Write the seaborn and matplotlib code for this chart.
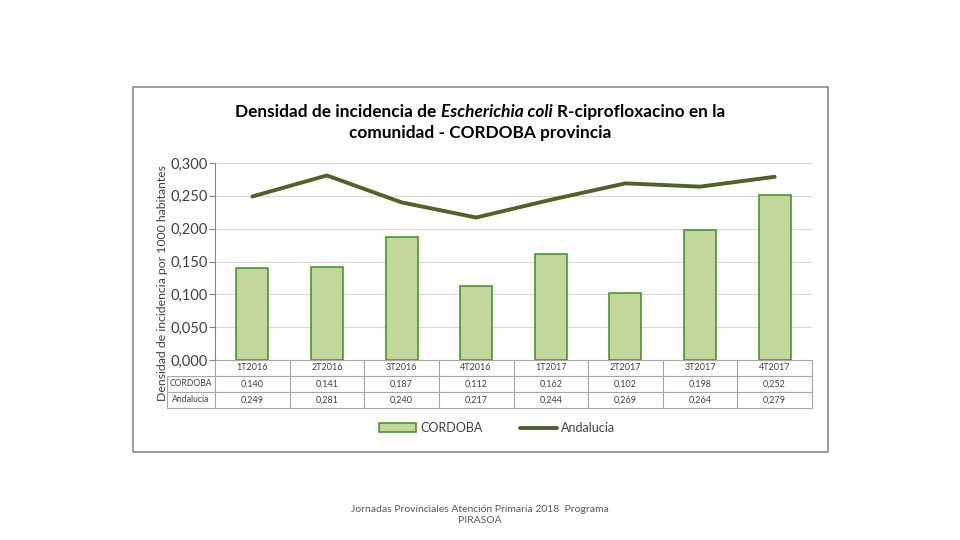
import numpy as np
import pandas as pd
import seaborn as sns
import matplotlib
matplotlib.use('Agg')
import matplotlib.pyplot as plt
from matplotlib.patches import Rectangle
from matplotlib.ticker import FuncFormatter, MultipleLocator

periods = ['1T2016', '2T2016', '3T2016', '4T2016', '1T2017', '2T2017', '3T2017', '4T2017']
cordoba = [0.140, 0.141, 0.187, 0.112, 0.162, 0.102, 0.198, 0.252]
andalucia = [0.249, 0.281, 0.240, 0.217, 0.244, 0.269, 0.264, 0.279]
series_names = ['CORDOBA', 'Andalucía']

sns.set_theme(style='white')
plt.rcParams['font.family'] = ['Lato', 'DejaVu Sans']

W, H = 960, 540
fig = plt.figure(figsize=(9.6, 5.4), dpi=100)
fig.patch.set_facecolor('white')

axL, axR, axT, axB = 215, 812, 163, 360
ax = fig.add_axes([axL / W, 1 - axB / H, (axR - axL) / W, (axB - axT) / H])
ax.set_facecolor('white')

df = pd.DataFrame({'periodo': periods, series_names[0]: cordoba, series_names[1]: andalucia})

sns.barplot(data=df, x='periodo', y=series_names[0], color='#C4D79B', saturation=1,
            edgecolor='#3E8E22', linewidth=1.1, width=0.43, ax=ax, label=series_names[0], zorder=2)
sns.lineplot(data=df, x='periodo', y=series_names[1], sort=False, color='#4F6228',
             linewidth=2.8, ax=ax, label=series_names[1], zorder=3)

ax.set_xlim(-0.5, 7.5)
ax.set_ylim(0, 0.3)
ax.yaxis.set_major_locator(MultipleLocator(0.05))
ax.yaxis.set_major_formatter(FuncFormatter(lambda v, p: f"{v:.3f}".replace('.', ',')))
ax.yaxis.grid(True, color='#D9D9D9', linewidth=0.8)
ax.set_axisbelow(True)
ax.set_xticks([])
ax.set_xlabel('')
ax.set_ylabel('')
for s in ['top', 'right', 'bottom']:
    ax.spines[s].set_visible(False)
ax.spines['left'].set_color('#868686')
ax.spines['left'].set_linewidth(0.8)
ax.tick_params(axis='y', left=True, length=4, width=0.8, color='#868686',
               labelsize=10.5, labelcolor='#404040', pad=1)

handles, labels = ax.get_legend_handles_labels()
order = [labels.index(n) for n in series_names]
handles = [handles[i] for i in order]
labels = [labels[i] for i in order]
if ax.get_legend() is not None:
    ax.get_legend().remove()

fmt = lambda vals: [f"{v:.3f}".replace('.', ',') for v in vals]
cell_text = [[''] + periods,
             [series_names[0]] + fmt(cordoba),
             [series_names[1]] + fmt(andalucia)]
tabL = 167
tw = axR - tabL
colw = (axR - axL) / 8
tbl = ax.table(cellText=cell_text, colWidths=[(axL - tabL) / tw] + [colw / tw] * 8,
               bbox=[(tabL - axL) / (axR - axL), -48 / (axB - axT), tw / (axR - axL), 48 / (axB - axT)],
               cellLoc='center')
tbl.auto_set_font_size(False)
tbl.set_fontsize(6.5)
for (r, c), cell in tbl.get_celld().items():
    cell.set_edgecolor('#A6A6A6')
    cell.set_linewidth(0.8)
    cell.get_text().set_color('#404040')
    if c == 0:
        cell._loc = 'left'
        cell.PAD = 0.1
        cell.get_text().set_fontsize(6.2)
    if r == 0 and c == 0:
        cell.visible_edges = ''

fig.text(162 / W, 1 - 283 / H, 'Densidad de incidencia por 1000 habitantes', rotation=90,
         ha='center', va='center', fontsize=8.8, color='#404040')

fig.legend(handles, labels, loc='center', bbox_to_anchor=(497 / W, 1 - 428 / H), ncol=2,
           frameon=False, fontsize=9, handlelength=3, columnspacing=3, handletextpad=0.3,
           labelcolor='#404040')

def draw_line(pieces, ypix, fs):
    texts = []
    for s, style in pieces:
        t = fig.text(0, 1 - ypix / H, s, fontsize=fs, fontweight='bold', fontstyle=style,
                     va='center', ha='left', color='black')
        texts.append(t)
    fig.canvas.draw()
    r = fig.canvas.get_renderer()
    a = fig.text(0, 0, 'xx', fontsize=fs, fontweight='bold')
    b = fig.text(0, 0, 'x x', fontsize=fs, fontweight='bold')
    sp = b.get_window_extent(r).width - a.get_window_extent(r).width
    a.remove(); b.remove()
    widths = [t.get_window_extent(r).width for t in texts]
    total = sum(widths) + sp * (len(texts) - 1)
    x = W / 2 - total / 2
    for t, w in zip(texts, widths):
        t.set_x(x / W)
        x += w + sp

draw_line([('Densidad de incidencia de', 'normal'), ('Escherichia coli', 'italic'),
           ('R-ciprofloxacino en la', 'normal')], 112, 12.4)
draw_line([('comunidad - CORDOBA provincia', 'normal')], 133, 12.4)

fig.add_artist(Rectangle((133 / W, 1 - 452 / H), 695 / W, 365 / H, transform=fig.transFigure,
                         fill=False, edgecolor='#8C8C8C', linewidth=1.2))

fig.text(480 / W, 1 - 515 / H, 'Jornadas Provinciales Atención Primaria 2018  Programa\nPIRASOA',
         ha='center', va='center', fontsize=7.5, color='#595959', linespacing=1.3)

fig.savefig('out.png', dpi=100, facecolor='white')
